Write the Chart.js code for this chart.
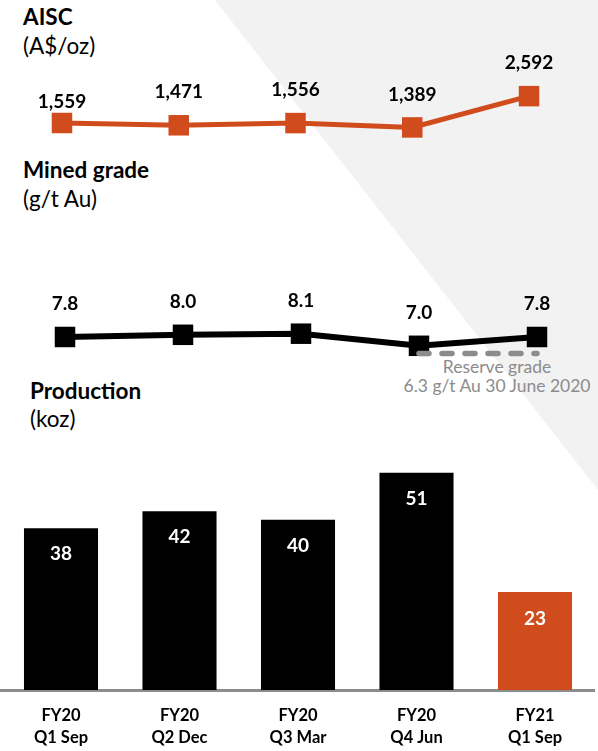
<!DOCTYPE html>
<html>
<head>
<meta charset="utf-8">
<script src="https://cdn.jsdelivr.net/npm/chart.js@4.4.0/dist/chart.umd.min.js"></script>
<style>
  html, body { margin: 0; padding: 0; background: #fff; }
  body { width: 598px; height: 751px; position: relative; overflow: hidden; font-family: Lato, "Liberation Sans", sans-serif; }
  .bg { position: absolute; left: 0; top: 0; width: 598px; height: 751px; background: #f2f2f2;
        clip-path: polygon(215px 0, 598px 0, 598px 490px); }
  .t { position: absolute; left: 23px; font-size: 22.5px; line-height: 24px; color: #000; white-space: nowrap; }
  .b { font-weight: bold; }
  .note { position: absolute; left: 397px; width: 200px; text-align: center; color: #8c8c8c; font-size: 17.5px; line-height: 19px; }
  canvas { position: absolute; left: 0; }
</style>
</head>
<body>
<div class="bg"></div>

<div class="t b" style="top:5px">AISC</div>
<div class="t" style="top:34px">(A$/oz)</div>
<div class="t b" style="top:158px">Mined grade</div>
<div class="t" style="top:187px">(g/t Au)</div>
<div class="t b" style="top:379px;left:30px">Production</div>
<div class="t" style="top:407px;left:30px">(koz)</div>

<div class="note" style="top:357px">Reserve grade<br>6.3 g/t Au 30 June 2020</div>

<canvas id="aisc" width="598" height="160" style="top:0px"></canvas>
<canvas id="grade" width="598" height="120" style="top:260px"></canvas>
<canvas id="prod" width="598" height="331" style="top:420px"></canvas>

<script>
const quarters = [['FY20', 'Q1 Sep'], ['FY20', 'Q2 Dec'], ['FY20', 'Q3 Mar'], ['FY20', 'Q4 Jun'], ['FY21', 'Q1 Sep']];
const aiscValues = [1559, 1471, 1556, 1389, 2592];
const gradeValues = [7.8, 8.0, 8.1, 7.0, 7.8];
const reserveGrade = [null, null, null, 6.3, 6.3];
const productionValues = [38, 42, 40, 51, 23];

const ORANGE = '#d14c1c';

// draws the value of dataset 0 next to each point / bar
function valueLabels(format, font, color, offsets) {
  return {
    id: 'valueLabels',
    afterDatasetsDraw(chart) {
      const ctx = chart.ctx;
      const meta = chart.getDatasetMeta(0);
      const data = chart.data.datasets[0].data;
      ctx.save();
      ctx.font = font;
      ctx.fillStyle = color;
      ctx.textAlign = 'center';
      ctx.textBaseline = 'middle';
      meta.data.forEach((el, i) => {
        ctx.fillText(format(data[i]), el.x, el.y + offsets[i]);
      });
      ctx.restore();
    }
  };
}

Chart.defaults.font.family = 'Lato, "Liberation Sans", sans-serif';

const hidden = { display: false };

new Chart(document.getElementById('aisc'), {
  type: 'line',
  data: {
    labels: quarters,
    datasets: [{
      data: aiscValues,
      borderColor: ORANGE,
      backgroundColor: ORANGE,
      borderWidth: 5,
      pointStyle: 'rect',
      pointRadius: 14.5,
      pointHoverRadius: 14.5,
      pointBorderWidth: 0
    }]
  },
  options: {
    responsive: false,
    animation: false,
    devicePixelRatio: 1,
    layout: { autoPadding: false, padding: { left: 3.6, right: 10.6, top: 0, bottom: 0 } },
    plugins: { legend: hidden, tooltip: { enabled: false } },
    scales: {
      x: { display: false, offset: true },
      y: { display: false, min: 136, max: 6290 }
    }
  },
  plugins: [valueLabels(v => v.toLocaleString('en-US'), 'bold 19px Lato, "Liberation Sans", sans-serif', '#000', [-21, -33, -33, -33, -33])]
});

new Chart(document.getElementById('grade'), {
  type: 'line',
  data: {
    labels: quarters,
    datasets: [{
      data: gradeValues,
      borderColor: '#000',
      backgroundColor: '#000',
      borderWidth: 6,
      pointStyle: 'rect',
      pointRadius: 14.5,
      pointHoverRadius: 14.5,
      pointBorderWidth: 0,
      order: 1
    }, {
      data: reserveGrade,
      borderColor: '#8c8c8c',
      borderWidth: 5.5,
      borderDash: [10, 13],
      borderCapStyle: 'round',
      pointRadius: 0,
      order: 0
    }]
  },
  options: {
    responsive: false,
    animation: false,
    devicePixelRatio: 1,
    layout: { autoPadding: false, padding: { left: 6, right: 2, top: 0, bottom: 0 } },
    plugins: { legend: hidden, tooltip: { enabled: false } },
    scales: {
      x: { display: false, offset: true },
      y: { display: false, min: 3.89, max: 14.8 }
    }
  },
  plugins: [valueLabels(v => v.toFixed(1), 'bold 19px Lato, "Liberation Sans", sans-serif', '#000', [-33, -33, -33, -33, -33])]
});

new Chart(document.getElementById('prod'), {
  type: 'bar',
  data: {
    labels: quarters,
    datasets: [{
      data: productionValues,
      backgroundColor: ['#000', '#000', '#000', '#000', ORANGE],
      borderWidth: 0,
      barPercentage: 0.625,
      categoryPercentage: 1
    }]
  },
  options: {
    responsive: false,
    animation: false,
    devicePixelRatio: 1,
    layout: { padding: { left: 1.75, right: 3.75, top: 0, bottom: 0 } },
    plugins: { legend: hidden, tooltip: { enabled: false } },
    scales: {
      x: {
        grid: { display: true, drawOnChartArea: false, drawTicks: false },
        border: { display: true, color: '#8c8c8c', width: 3 },
        ticks: { color: '#000', padding: 15, font: { size: 16.5, weight: 'bold', lineHeight: 1.33 } },
        afterFit(scale) { scale.height = 61; }
      },
      y: { display: false, min: 0, max: 63.4 }
    }
  },
  plugins: [valueLabels(v => String(v), 'bold 19px Lato, "Liberation Sans", sans-serif', '#fff', [26, 26, 26, 26, 27])]
});
</script>
</body>
</html>
